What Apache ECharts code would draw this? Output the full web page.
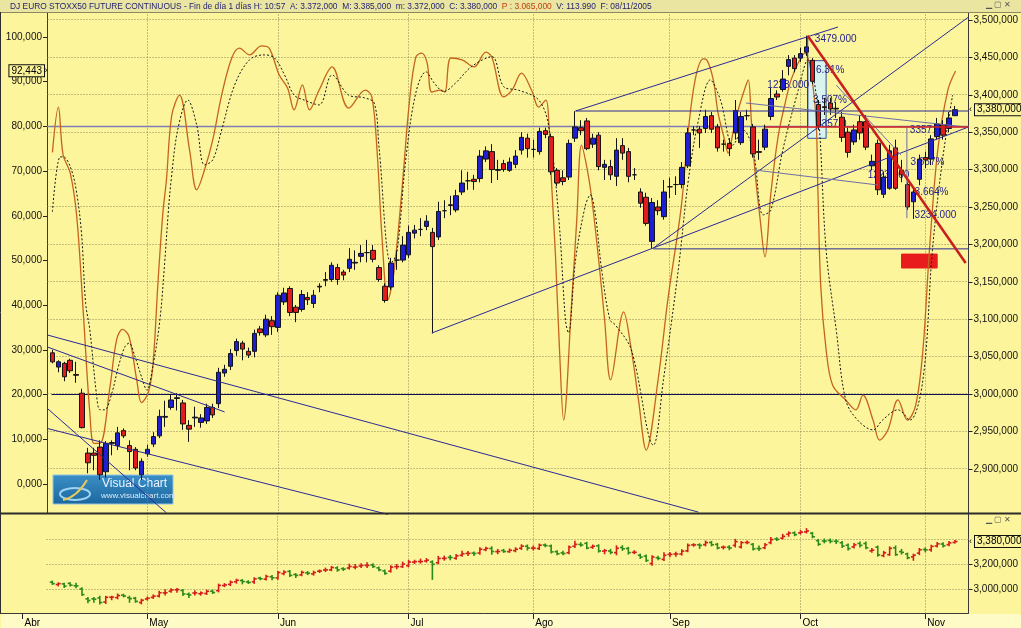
<!DOCTYPE html>
<html><head><meta charset="utf-8">
<script src="https://cdn.jsdelivr.net/npm/echarts@6/dist/echarts.min.js"></script>
<style>html,body{margin:0;padding:0;background:#fcf59c;}#c{width:1021px;height:628px;}</style>
</head><body><div id="c"></div>
<script>
// ---------------- data ----------------
const monthLabels = ['Abr','May','Jun','Jul','Ago','Sep','Oct','Nov'];
const monthStarts = [0,21,43,65,86,109,131,152];   // trading-day index of first day of month
const firstDay = 5;                                  // day index of first candle (8 Apr 2005)
const open  = [3055,3036,3041,3045,3026,3001,2921,2921,2929,2896,2934,2931,2951,2931,2926,2892,2920,2933,2944,2969,2982,2994,2988,2958,2968,2962,2964,2982,2987,3028,3037,3058,3068,3057,3057,3087,3079,3098,3089,3123,3141,3116,3113,3129,3121,3143,3152,3153,3169,3163,3168,3175,3184,3189,3192,3169,3144,3143,3179,3179,3186,3215,3220,3224,3216,3210,3245,3253,3246,3270,3285,3287,3288,3314,3324,3299,3308,3299,3307,3326,3342,3327,3324,3352,3344,3299,3289,3290,3342,3356,3365,3334,3346,3303,3304,3291,3332,3324,3293,3270,3263,3204,3250,3237,3277,3280,3280,3305,3353,3354,3355,3372,3357,3334,3335,3349,3336,3372,3357,3324,3330,3371,3401,3407,3438,3449,3449,3457,3446,3387,3384,3389,3382,3370,3350,3337,3364,3364,3305,3335,3267,3275,3329,3299,3280,3257,3287,3316,3314,3344,3360,3355,3372];
const high  = [3059,3045,3043,3047,3043,3007,2928,2928,2938,2937,2938,2956,2954,2938,2929,2914,2932,2949,2979,2991,2999,3001,2992,2965,2983,2973,2987,2987,3035,3039,3060,3074,3071,3062,3086,3091,3106,3104,3136,3142,3144,3119,3139,3136,3139,3148,3163,3176,3174,3166,3195,3192,3199,3206,3199,3172,3148,3182,3192,3211,3225,3226,3235,3239,3222,3257,3259,3265,3273,3299,3297,3293,3326,3331,3334,3313,3313,3316,3326,3350,3348,3340,3356,3356,3348,3302,3299,3340,3378,3366,3369,3348,3350,3313,3313,3342,3342,3329,3302,3275,3269,3262,3259,3286,3289,3291,3310,3356,3358,3358,3380,3377,3361,3340,3342,3393,3377,3380,3361,3340,3360,3409,3406,3433,3453,3453,3463,3479,3449,3393,3396,3396,3390,3377,3356,3360,3373,3373,3320,3340,3297,3333,3340,3313,3283,3275,3320,3324,3346,3369,3366,3377,3385];
const low   = [3041,3029,3017,3028,3015,2954,2894,2898,2885,2888,2918,2925,2941,2898,2898,2885,2916,2929,2941,2956,2979,2978,2952,2936,2956,2955,2960,2968,2981,3023,3032,3051,3045,3048,3049,3078,3076,3079,3083,3119,3104,3096,3110,3119,3115,3136,3144,3150,3146,3152,3163,3166,3176,3176,3176,3150,3122,3139,3166,3176,3182,3208,3211,3219,3081,3206,3235,3239,3243,3266,3273,3273,3283,3310,3282,3286,3297,3297,3302,3320,3316,3316,3320,3342,3293,3278,3279,3286,3337,3346,3326,3329,3299,3286,3286,3278,3313,3283,3286,3249,3225,3194,3239,3233,3262,3266,3275,3302,3346,3329,3349,3349,3324,3324,3318,3340,3333,3366,3316,3313,3326,3366,3393,3404,3426,3430,3444,3452,3414,3353,3373,3373,3369,3337,3316,3333,3340,3326,3299,3266,3262,3273,3273,3283,3246,3234,3279,3302,3306,3340,3340,3350,3372];
const close = [3043,3043,3023,3031,3025,2955,2908,2918,2892,2934,2935,2948,2944,2923,2901,2910,2926,2943,2970,2970,2992,2995,2960,2953,2969,2968,2982,2972,3029,3033,3054,3070,3060,3052,3081,3082,3100,3090,3132,3135,3109,3109,3133,3126,3132,3144,3153,3172,3153,3159,3180,3176,3188,3189,3180,3153,3125,3175,3179,3199,3216,3219,3220,3231,3197,3244,3245,3252,3265,3282,3285,3284,3318,3325,3300,3300,3300,3310,3318,3343,3328,3327,3351,3347,3297,3282,3284,3335,3357,3352,3328,3342,3304,3307,3293,3326,3322,3291,3293,3255,3228,3256,3245,3270,3277,3280,3303,3349,3353,3349,3371,3354,3329,3334,3328,3379,3371,3372,3321,3323,3354,3395,3397,3421,3447,3435,3455,3464,3418,3358,3383,3381,3381,3343,3323,3353,3349,3330,3311,3273,3290,3325,3275,3293,3250,3270,3314,3313,3341,3361,3346,3369,3380];

// oscillator (left axis): [day index, value]
const oscK = [[5,74.2],[6,84.3],[6.8,73.6],[8,69.6],[9.1,59.8],[10.2,38.3],[11.3,15.9],[12,9.1],[13,9.1],[14.7,21.8],[15.8,32.2],[16.8,34.6],[17.9,33],[19.2,23.3],[20,18.2],[21.1,20.3],[21.9,26.2],[22.8,45.6],[23.6,60.6],[24.2,68],[25.1,82.5],[26.4,87],[28.1,74.7],[29.3,65.8],[30.6,70.2],[32,77],[33.5,87],[35.2,95.3],[36.5,97.5],[38.2,96],[40.2,98],[41.5,97.5],[43.2,91.5],[44.6,88.6],[45.7,83.7],[47.1,89.3],[48.3,83.7],[49.9,88.1],[52.1,93.3],[54.9,84.1],[57.7,88.1],[58.8,86.6],[59.7,74],[60.5,55.3],[61.5,41.2],[62.5,47.2],[63.9,66.4],[65.1,85.2],[66.2,95.5],[67.2,96.4],[68.1,94.2],[68.9,87.7],[70.4,88.1],[71.1,87.7],[72.1,95.3],[74,94.9],[76,93.3],[78,96.6],[79,95.5],[81,86.6],[82.4,88.1],[84,91.9],[85.7,88.1],[86.9,84.3],[88.1,85.9],[88.6,80.8],[89.1,66.4],[89.7,51.7],[90.4,30],[91.1,14.3],[92.4,39.6],[93.3,59],[94.1,75.8],[95,70.9],[95.8,64.2],[97,50.1],[98,36.7],[99,23.3],[101.2,38.5],[102.5,30],[103.7,18.8],[105,7.6],[107,23.3],[108.7,41.8],[110.9,62],[112.1,79.2],[113.3,90.8],[114.6,95.1],[115.2,94.9],[116.3,90.4],[117.1,83],[118.2,77],[118.8,74],[119.6,78.5],[120.5,83.7],[121.7,88.8],[122.2,90.4],[122.7,81.4],[123.3,70.2],[124.2,59.1],[125,50.8],[126,65.1],[127.2,77.6],[128.4,85.2],[129.4,90.4],[130.6,94.2],[131.7,96.4],[133.4,85.2],[133.9,66.4],[134.4,44.1],[135.3,30],[136.4,22.1],[138.6,18.8],[140.3,16.6],[141.5,19.9],[143.2,14.3],[144.3,9.8],[145.7,12.1],[147.4,18.8],[149,14.3],[150.4,17.7],[151.6,30],[152.7,52.3],[154.1,74.7],[155.8,88.1],[157.1,92.4]];
const oscD = [[5,60.9],[6.2,73.1],[6.8,73.2],[8,71],[9,65.8],[9.9,56.1],[10.6,40.4],[11.3,34.5],[12.4,20.3],[13,16.6],[13.8,16.6],[15,20.3],[16.1,26.2],[17.2,30.7],[17.9,31.5],[18.9,28.5],[20,24],[20.9,21],[21.9,26.2],[23.1,36.7],[23.9,49.4],[24.5,60.6],[25,68],[26.1,79.2],[27.8,85.9],[29.3,80.3],[30.6,71.4],[32,72.5],[33.5,79.2],[35.7,89.3],[38.2,94.9],[40.7,96],[42.4,95.3],[44.1,91.5],[45.7,87],[47.4,85.9],[49.9,84.8],[52.1,91.5],[54.9,87],[57.5,86.4],[59.2,85.2],[60,75.4],[62,49.4],[63,51.7],[64.5,72.5],[66.2,87.5],[67.9,92.2],[69.3,89.7],[70.9,87.8],[72.9,89.7],[75.6,93.4],[79,95.6],[81,88.9],[83.5,88.1],[86.9,85.9],[88.6,79.9],[90.3,59.1],[91.4,36.7],[91.9,33.8],[93.1,50.1],[94.7,62],[95.6,64.7],[96.4,60.6],[97.5,47.9],[98.9,36.7],[99.8,35.6],[102.5,30],[106.2,8.7],[107.9,23.3],[110.4,47.9],[112.1,68],[113.8,81.4],[115.8,90.4],[117.5,85.9],[119.6,75.8],[121.3,79.2],[123,74.7],[124.7,60.2],[126,61.3],[128,74.7],[130.6,88.1],[132.2,94.9],[133.9,83.7],[135.3,52.3],[137,34.5],[138.6,18.8],[140.6,14.3],[143.2,12.1],[144.8,14.3],[147.4,16.6],[149.4,14.3],[151.6,23.3],[153.2,52.3],[154.9,72.5],[156.6,87]];
const oscLevels = [80, 20];
const oscLast = 92.443;

const priceTicks = [2900,2950,3000,3050,3100,3150,3200,3250,3300,3350,3400,3450,3500];
const oscTicks = [0,10,20,30,40,50,60,70,80,90,100];
const lowerTicks = [3000,3200];
const lowerGrid = [3000,3200,3400];
const lastPrice = 3380;

// drawn studies (day index, price)
const blueLines = [[4.09,3079,113.8,2842],[4.09,3063,34,2976],[4.09,2954,61.5,2839],[4.09,2981,24.2,2841],[68.9,3081.5,159.3,3357],[93.1,3378.3,137.3,3490.6],[93.1,3378.3,159.3,3378.3],[106.2,3195,159.3,3504],[106.2,3194,159.3,3194],[132.2,3479,132.2,3357]];
const grayLines = [[121.8,3389,158.8,3357],[123.3,3299.4,144,3279.4],[137,3413,147.9,3319.5],[148.9,3356,148.9,3235]];
const redThick  = [[132.2,3479,158.8,3175]];
const redThin   = [[125,3357,159.3,3357]];
const boxes     = [[132.2,3445.6,135.3,3341.8,'#d9f3ee','#3050a0'],[148,3187,154,3168.4,'#e81c1c','#e81c1c']];
const noteTexts = ['3479.000','6.31%','3.507%','3357.0','1223.000','3357','3.667%','3.664%','3234.000','1223.000'];
const notePos   = [[133.4,3474.6],[133.6,3433],[133.1,3393],[133.6,3361],[125.4,3413],[149.4,3353],[149.5,3310],[150.2,3270],[150.2,3239],[142.3,3293]];

// ---------------- chart ----------------
const PMIN=2840.87, PMAX=3510.66, OMIN=-6.488, OMAX=105.593, LMIN=2808, LMAX=3608;
const XMIN=4.088, XMAX=159.28, XLOW=-3.806;
const FONT='Liberation Sans, Arial, sans-serif';
const fmt = v => { const s=v.toFixed(3).split('.'); return s[0].replace(/\B(?=(\d{3})+(?!\d))/g, ',')+','+s[1]; };
const candles = open.map((o,k)=>[firstDay+k, o, close[k], low[k], high[k]]);
const snapPx = v => Math.round(v - 0.5) + 0.5;

function segSeries(rows, color, width, dash, yIdx, z, xIdx, snap){
  return {type:'custom', coordinateSystem:'cartesian2d', xAxisIndex:xIdx||0, yAxisIndex:yIdx, z:z, silent:true,
    data: rows.map(r=>r.slice(0,4)),
    renderItem:(p,api)=>{let a=api.coord([api.value(0),api.value(1)]), b=api.coord([api.value(2),api.value(3)]);
      if (snap) { a=[snapPx(a[0]),snapPx(a[1])]; b=[snapPx(b[0]),snapPx(b[1])]; }
      return {type:'line', shape:{x1:a[0],y1:a[1],x2:b[0],y2:b[1]}, style:{stroke:color,lineWidth:width,lineDash:dash||null}};}};
}
const dotted=[1,2], gridCol='#8a8558';
const hg = (vals,x0,x1) => vals.map(v=>[x0,v,x1,v]);
const vg = (vals,y0,y1) => vals.map(v=>[v,y0,v,y1]);
const axLine = {show:true,onZero:false,lineStyle:{color:'#3a3a3a'}};

const chart = echarts.init(document.getElementById('c'));
const option = {
  backgroundColor:'#fcf59c', animation:false,
  grid:[{left:47,top:12,width:924,height:501},{left:0,top:513,width:971,height:100}],
  xAxis:[
    {type:'value',gridIndex:0,min:XMIN,max:XMAX,show:false},
    {type:'value',gridIndex:1,min:XLOW,max:XMAX,splitLine:{show:false},
     axisLine:axLine,
     axisTick:{customValues:monthStarts,length:6,lineStyle:{color:'#222'}},
     axisLabel:{customValues:monthStarts,formatter:v=>monthLabels[monthStarts.indexOf(v)],align:'left',margin:3,padding:[2,0,0,2],color:'#000',fontFamily:FONT,fontSize:10}}
  ],
  yAxis:[
    {type:'value',gridIndex:0,position:'right',min:PMIN,max:PMAX,splitLine:{show:false},
     axisLine:axLine,axisTick:{show:true,customValues:priceTicks,length:4,lineStyle:{color:'#222'}},
     axisLabel:{customValues:priceTicks,formatter:fmt,margin:5,color:'#111',fontFamily:FONT,fontSize:10}},
    {type:'value',gridIndex:0,position:'left',min:OMIN,max:OMAX,splitLine:{show:false},
     axisLine:axLine,axisTick:{show:true,customValues:oscTicks,length:4,lineStyle:{color:'#222'}},
     axisLabel:{customValues:oscTicks,formatter:fmt,margin:5,color:'#111',fontFamily:FONT,fontSize:10}},
    {type:'value',gridIndex:1,position:'right',min:LMIN,max:LMAX,splitLine:{show:false},
     axisLine:axLine,axisTick:{show:true,customValues:lowerTicks,length:4,lineStyle:{color:'#222'}},
     axisLabel:{customValues:lowerTicks,formatter:fmt,margin:5,color:'#111',fontFamily:FONT,fontSize:10}}
  ],
  series:[
    segSeries(hg(priceTicks,XMIN,XMAX),gridCol,1,dotted,0,1,0,true),
    segSeries(vg(monthStarts.slice(1),PMIN,PMAX),gridCol,1,dotted,0,1,0,true),
    segSeries(hg(lowerGrid,XMIN,XMAX),gridCol,1,dotted,2,1,1,true),
    segSeries(vg(monthStarts.slice(1),LMIN,LMAX),gridCol,1,dotted,2,1,1,true),
    segSeries([[XMIN,oscLevels[0],XMAX,oscLevels[0]]],'#7e7eb4',1.5,null,1,2),
    segSeries([[4.9,oscLevels[1],XMAX,oscLevels[1]]],'#101058',1,null,1,2,0,true),
    {type:'custom',coordinateSystem:'cartesian2d',xAxisIndex:0,yAxisIndex:0,z:2,silent:true,
     data:boxes.map(b=>b.slice(0,4)),
     renderItem:(p,api)=>{const a=api.coord([api.value(0),api.value(1)]),b=api.coord([api.value(2),api.value(3)]);const bx=boxes[p.dataIndex];
       return {type:'rect',shape:{x:a[0],y:a[1],width:b[0]-a[0],height:b[1]-a[1]},style:{fill:bx[4],stroke:bx[5],lineWidth:1}};}},
    {type:'line',xAxisIndex:0,yAxisIndex:1,data:oscK,smooth:0.35,showSymbol:false,z:3,silent:true,lineStyle:{color:'#c4641e',width:1.3}},
    {type:'line',xAxisIndex:0,yAxisIndex:1,data:oscD,smooth:0.35,showSymbol:false,z:3,silent:true,lineStyle:{color:'#151515',width:1,type:[2,2]}},
    {type:'custom',coordinateSystem:'cartesian2d',xAxisIndex:0,yAxisIndex:0,z:4,silent:true,
     data:notePos,
     renderItem:(p,api)=>{const a=api.coord([api.value(0),api.value(1)]);
       return {type:'text',x:a[0],y:a[1],style:{text:noteTexts[p.dataIndex],fill:'#22228a',font:'10px '+FONT,align:'left',verticalAlign:'middle'}};}},
    {type:'candlestick',xAxisIndex:0,yAxisIndex:0,z:5,barWidth:5,silent:true,
     data:candles,encode:{x:0,y:[1,2,3,4]},
     itemStyle:{color:'#1e1ed2',color0:'#e01c1c',borderColor:'#141414',borderColor0:'#141414',borderWidth:1}},
    segSeries(blueLines,'#2a2a96',1,null,0,6),
    segSeries(grayLines,'#6e6ea6',1,null,0,6),
    segSeries(redThin,'#d42020',1.5,null,0,6),
    segSeries(redThick,'#c81e1e',2.5,null,0,7),
    {type:'custom',coordinateSystem:'cartesian2d',xAxisIndex:1,yAxisIndex:2,z:5,silent:true,
     data:candles,
     renderItem:(p,api)=>{const x=api.value(0),o=api.value(1),c=api.value(2),l=api.value(3),h=api.value(4);
       const H=api.coord([x,h]),L=api.coord([x,l]),O=api.coord([x,o]),C=api.coord([x,c]);
       const col=c>=o?'#d41c1c':'#2a8a1a', st={stroke:col,lineWidth:1.6};
       return {type:'group',children:[
         {type:'line',shape:{x1:H[0],y1:H[1]-1,x2:L[0],y2:L[1]+1},style:st},
         {type:'line',shape:{x1:O[0]-2.5,y1:O[1],x2:O[0],y2:O[1]},style:st},
         {type:'line',shape:{x1:C[0],y1:C[1],x2:C[0]+2.5,y2:C[1]},style:st}]};}}
  ]
};
chart.setOption(option);

// value boxes positioned through the axes
const yOsc = chart.convertToPixel({yAxisIndex:1}, oscLast);
const yPr  = chart.convertToPixel({yAxisIndex:0}, lastPrice);
const yLo  = chart.convertToPixel({yAxisIndex:2}, lastPrice);
const boxStyle = (t,al)=>({text:t,fill:'#000',font:'10px '+FONT,backgroundColor:'#fcf59c',borderColor:'#111',borderWidth:1,padding:[1,2,0,2],align:al,verticalAlign:'middle'});
chart.setOption({graphic:[
  {type:'rect',id:'bs',shape:{x:1,y:614,width:1020,height:14},style:{fill:'#fffbc6'},z:-1,silent:true},
  {type:'rect',id:'tb',shape:{x:0,y:0,width:1021,height:12},style:{fill:'#ebe5a2'},z:10},
  {type:'line',id:'tbl',shape:{x1:0,y1:12.5,x2:1021,y2:12.5},style:{stroke:'#8d8860',lineWidth:1},z:10},
  {type:'text',id:'tt',x:10,y:6.5,z:11,style:{text:'{a|DJ EURO STOXX50 FUTURE CONTINUOUS - Fin de día 1 días H: 10:57  A: 3.372,000  M: 3.385,000  m: 3.372,000  C: 3.380,000  }{b|P : 3.065,000}{a|  V: 113.990  F: 08/11/2005}',
     verticalAlign:'middle',rich:{a:{fill:'#1e1e6e',font:'8.4px '+FONT},b:{fill:'#c0400e',font:'8.4px '+FONT}}}},
  {type:'text',id:'wb1',x:986,y:1,z:11,style:{text:'▁ ▢ ✕',fill:'#555',font:'8px '+FONT}},
  {type:'text',id:'wb2',x:986,y:516,z:11,style:{text:'▁ ▢ ✕',fill:'#555',font:'8px '+FONT}},
  {type:'line',id:'div',shape:{x1:0,y1:513.5,x2:1021,y2:513.5},style:{stroke:'#2c2c2c',lineWidth:2},z:10},
  {type:'line',id:'lb',shape:{x1:0.5,y1:12,x2:0.5,y2:613},style:{stroke:'#2c2c2c',lineWidth:1},z:10},
  {type:'text',id:'bx1',x:44,y:yOsc,z:11,style:boxStyle(fmt(oscLast),'right')},
  {type:'text',id:'ar1',x:44.5,y:yOsc,z:11,style:{text:'›',fill:'#000',font:'9px '+FONT,verticalAlign:'middle'}},
  {type:'text',id:'bx2',x:975,y:yPr,z:11,style:boxStyle(fmt(lastPrice),'left')},
  {type:'text',id:'ar2',x:969,y:yPr,z:11,style:{text:'‹',fill:'#000',font:'9px '+FONT,verticalAlign:'middle'}},
  {type:'text',id:'bx3',x:975,y:yLo,z:11,style:boxStyle(fmt(lastPrice),'left')},
  {type:'text',id:'ar3',x:969,y:yLo,z:11,style:{text:'‹',fill:'#000',font:'9px '+FONT,verticalAlign:'middle'}},
  {type:'group',id:'logo',x:53,y:475,z:12,children:[
    {type:'rect',shape:{x:0,y:0,width:120,height:29},style:{fill:new echarts.graphic.LinearGradient(0,0,0,1,[{offset:0,color:'#3b8fc6'},{offset:1,color:'#1b679e'}]),stroke:'#8fc3e3',lineWidth:1}},
    {type:'ellipse',shape:{cx:22,cy:19,rx:15,ry:6},style:{fill:'none',stroke:'#9fd3f3',lineWidth:2}},
    {type:'bezierCurve',shape:{x1:10,y1:25,x2:34,y2:5,cpx1:24,cpy1:22},style:{stroke:'#e9c95a',lineWidth:2,fill:'none'}},
    {type:'text',x:49,y:3,style:{text:'Visual Chart',fill:'#eaf5ff',font:'12px '+FONT}},
    {type:'text',x:48,y:17,style:{text:'www.visualchart.com',fill:'#dcecf8',font:'8px '+FONT}}
  ]}
]});
</script>
</body></html>
